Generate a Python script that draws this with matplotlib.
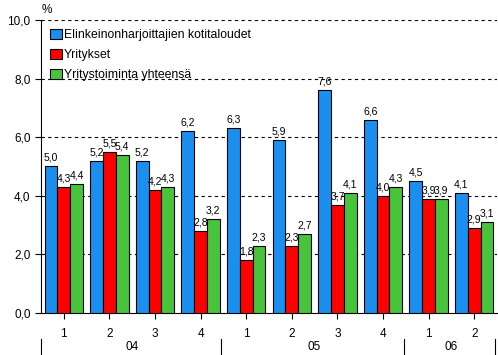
import matplotlib.pyplot as plt
import numpy as np

plt.rcParams.update({
    "font.family": ["Liberation Sans", "DejaVu Sans"],
    "font.size": 8,
})

quarters = ["1", "2", "3", "4", "1", "2", "3", "4", "1", "2"]
years = ["04", "05", "06"]
year_spans = [(0, 4), (4, 8), (8, 10)]
series_names = ["Elinkeinonharjoittajien kotitaloudet", "Yritykset",
                "Yritystoiminta yhteensä"]
kotitaloudet = [5.0, 5.2, 5.2, 6.2, 6.3, 5.9, 7.6, 6.6, 4.5, 4.1]
yritykset = [4.3, 5.5, 4.2, 2.8, 1.8, 2.3, 3.7, 4.0, 3.9, 2.9]
yhteensa = [4.4, 5.4, 4.3, 3.2, 2.3, 2.7, 4.1, 4.3, 3.9, 3.1]
colors = ["#1a8ff0", "#ff0000", "#48c43c"]

fig = plt.figure(figsize=(4.98, 3.55), dpi=100)
ax = fig.add_axes([0.0823, 0.1183, 0.9157, 0.8254])

x = np.arange(len(quarters))
w = 0.28
for i, (vals, name, c) in enumerate(zip([kotitaloudet, yritykset, yhteensa],
                                        series_names, colors)):
    pos = x + (i - 1) * w
    ax.bar(pos, vals, width=w, color=c, edgecolor="black", linewidth=0.8,
           label=name, zorder=3)
    for px, v in zip(pos, vals):
        ax.text(px, v + 0.12, f"{v:.1f}".replace(".", ","), ha="center",
                va="bottom", fontsize=7.5, zorder=4)

ax.set_xlim(-0.5, 9.5)
ax.set_ylim(0, 10)
ax.set_yticks(np.arange(0, 10.1, 2))
ax.set_yticklabels([f"{v:.1f}".replace(".", ",") for v in np.arange(0, 10.1, 2)],
                   fontsize=8.5)
for v in np.arange(2, 10.1, 2):
    ax.axhline(v, color="black", ls=(0, (3, 3)), lw=0.8, zorder=1)
ax.set_xticks(x)
ax.set_xticklabels(quarters, fontsize=8.5)
ax.tick_params(axis="both", direction="out", length=4, color="black")
ax.tick_params(axis="x", pad=7)
ax.spines["top"].set_visible(False)
ax.spines["right"].set_visible(False)

# year labels and separators under the quarter labels
trans = ax.get_xaxis_transform()
for yr, (a, b) in zip(years, year_spans):
    ax.text((a + b - 1) / 2, -0.116, yr, transform=trans, ha="center",
            va="center", fontsize=8.5)
for edge in [-0.5, 3.45, 7.45, 9.45]:
    ax.plot([edge, edge], [-0.09, -0.14], transform=trans, color="black",
            lw=0.8, clip_on=False)

ax.text(-0.48, 10.12, "%", ha="left", va="bottom", fontsize=8.5)

ax.legend(loc="upper left", bbox_to_anchor=(0.0, 1.0), frameon=False,
          fontsize=8.8, handlelength=1.0, handleheight=0.9, handletextpad=0.2,
          labelspacing=0.65, borderaxespad=0.3)

fig.savefig("out.png", dpi=100)
